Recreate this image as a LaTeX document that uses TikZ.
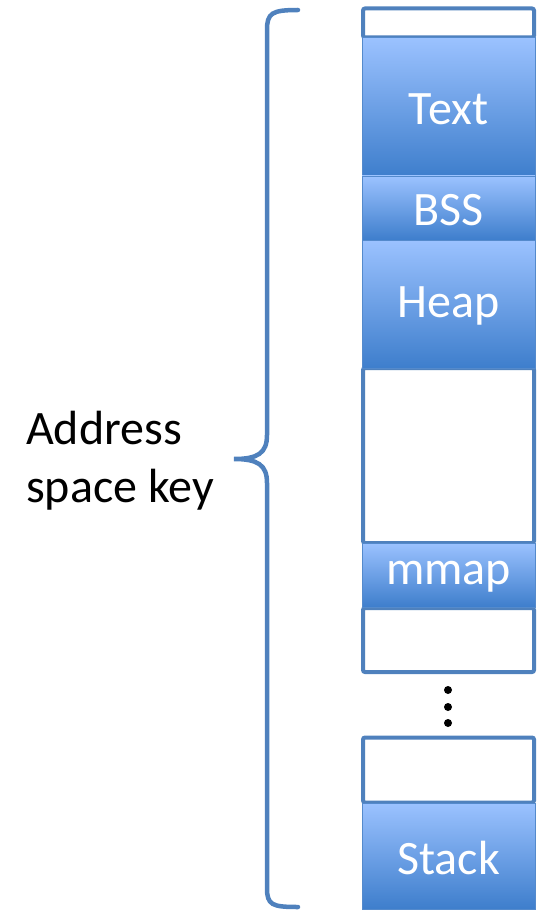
\documentclass[tikz,border=0pt]{standalone}
\usepackage{fontspec}
\setmainfont{Carlito}
\begin{document}
\begin{tikzpicture}[x=1pt,y=-1pt,
  edge/.style={draw={rgb,255:red,79;green,129;blue,189}},
  emptybox/.style={edge,line width=4pt,rounded corners=2pt,fill=white,
    minimum width=171pt,inner sep=0pt},
  segbox/.style={draw={rgb,255:red,84;green,138;blue,204},line width=0.8pt,
    top color={rgb,255:red,155;green,194;blue,255},
    bottom color={rgb,255:red,62;green,126;blue,204},
    minimum width=173pt,inner sep=0pt,text=white,
    font=\fontsize{48}{56}\selectfont},
  dot/.style={circle,fill=black,inner sep=0pt,minimum size=8pt},
  brace/.style={edge,line width=4.5pt,line cap=round}]
\useasboundingbox (0,0) rectangle (544,912);

% empty regions
\node[emptybox,minimum height=29pt] (top) at (448.5,23) {};
\node[emptybox,minimum height=175pt] (gap) at (448.5,455.5) {};
\node[emptybox,minimum height=64pt] (low) at (448.5,640) {};
\node[emptybox,minimum height=65pt] (high) at (448.5,770) {};

% filled segments
\node[segbox,minimum height=139pt] (text) at (448.5,107) {};
\node[segbox,minimum height=64pt] (bss) at (448.5,208) {};
\node[segbox,minimum height=128pt] (heap) at (448.5,304) {};
\node[segbox,minimum height=64pt] (mmap) at (448.5,575) {};
\node[segbox,minimum height=106pt] (stack) at (448.5,856) {};

% segment names, set a little below the box centres
\foreach \seg/\name in {text/Text,bss/BSS,heap/Heap,mmap/mmap,stack/Stack}
  \node[text=white,font=\fontsize{48}{56}\selectfont,inner sep=0pt]
    (\seg-label) at ([yshift=-2pt]\seg.center) {\name};

% ellipsis between regions
\node[dot] (d1) at (448,690) {};
\node[dot] (d2) at (448,707) {};
\node[dot] (d3) at (448,723) {};

% brace spanning the whole column
\coordinate (btop) at (298,10);
\coordinate (btip) at (234,459);
\coordinate (bbot) at (298,907);
\draw[brace] (btop) .. controls (272,10) and (267,13) .. (267,30)
  -- (267,435) .. controls (267,453) and (258,459) .. (btip)
  .. controls (258,459) and (267,465) .. (267,483)
  -- (267,888) .. controls (267,905) and (272,907) .. (bbot);

% label
\node[anchor=west,align=left,inner sep=0pt,
  font=\fontsize{48}{58}\selectfont] (key) at (26,461)
  {Address\\space key};
\end{tikzpicture}
\end{document}
